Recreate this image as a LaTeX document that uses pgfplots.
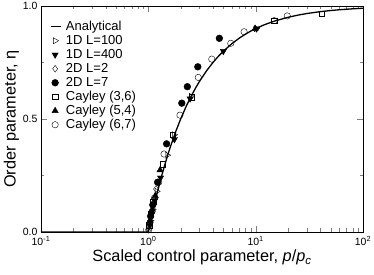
\documentclass[border=0pt]{standalone}
\usepackage{fontspec}
\setmainfont{Liberation Sans}
\usepackage{pgfplots}
\pgfplotsset{compat=1.18}
\pgfplotsset{shortline/.style={legend image code/.code={\draw[#1] (0.15cm,0cm) -- (0.5cm,0cm);}}}
\begin{document}
\begin{tikzpicture}
\begin{axis}[
  at={(0,0)}, anchor=south west,
  scale only axis, width=322pt, height=226pt,
  xmode=log, xmin=0.1, xmax=100, ymin=0, ymax=1,
  xtick={0.1,1,10,100},
  xticklabels={10\textsuperscript{-1},10\textsuperscript{0},10\textsuperscript{1},10\textsuperscript{2}},
  ytick={0,0.5,1}, yticklabels={0.0,0.5,1.0},
  minor ytick={0.25,0.75},
  tick align=inside, tick pos=both,
  major tick length=6pt, minor tick length=3.5pt,
  tick label style={font=\fontsize{10.5}{12}\selectfont},
  xticklabel style={yshift=-1pt},
  xlabel={Scaled control parameter, \textit{p}/\textit{p}\textsubscript{\textit{c}}},
  ylabel={Order parameter, η},
  label style={font=\fontsize{16.3}{18}\selectfont},
  xlabel style={yshift=3pt},
  ylabel style={yshift=-3pt},
  legend style={at={(0.028,0.94)}, anchor=north west, draw=none, fill=none,
    font=\fontsize{13}{14}\selectfont, row sep=0pt, inner sep=0pt,
    nodes={text height=9.3pt, text depth=2.7pt, inner sep=1pt},
    /tikz/every odd column/.append style={column sep=3.5pt}},
  legend cell align=left,
]
\addplot[black, line width=1.3pt, mark=none, shortline]
  coordinates {(0.1,0) (1,0) (1.05,0.0476) (1.1,0.0909) (1.15,0.1304) (1.2,0.1667)
  (1.3,0.2308) (1.4,0.2857) (1.5,0.3333) (1.6,0.375) (1.8,0.4444) (2,0.5)
  (2.25,0.5556) (2.5,0.6) (2.75,0.6364) (3,0.6667) (3.5,0.7143) (4,0.75)
  (4.5,0.7778) (5,0.8) (6,0.8333) (7,0.8571) (8,0.875) (9,0.8889) (10,0.9)
  (12,0.9167) (15,0.9333) (20,0.95) (25,0.96) (30,0.9667) (40,0.975)
  (50,0.98) (60,0.9833) (70,0.9857) (80,0.9875) (100,0.99)};
\addlegendentry{Analytical}
\addplot[only marks, black, mark=triangle, mark size=3.5pt, mark options={rotate=-90, fill=white}]
  coordinates {(1.02,0.02) (1.05,0.05) (1.1,0.10) (1.2,0.18) (1.5,0.34) (1.74,0.43) (2.5,0.6) (10.1,0.9)};
\addlegendentry{1D L=100}
\addplot[only marks, black, mark=triangle*, mark size=3.6pt, mark options={rotate=180}]
  coordinates {(1.03,0.03) (1.08,0.08) (1.15,0.14) (1.3,0.24) (1.75,0.41) (2.45,0.59) (5.0,0.8) (10.2,0.9)};
\addlegendentry{1D L=400}
\addplot[only marks, black, mark=diamond, mark size=3.4pt, mark options={fill=white}]
  coordinates {(1.01,0.01) (1.04,0.05) (1.07,0.09) (1.12,0.13) (1.18,0.19)};
\addlegendentry{2D L=2}
\addplot[only marks, black, mark=*, mark size=3.4pt]
  coordinates {(1.05,0.07) (1.1,0.12) (1.22,0.22) (1.48,0.39) (2.05,0.57) (2.31,0.643) (2.89,0.731) (4.59,0.857)};
\addlegendentry{2D L=7}
\addplot[only marks, black, mark=square, mark size=2.6pt, mark options={fill=white}]
  coordinates {(1.02,0.03) (1.06,0.08) (1.11,0.134) (1.36,0.30) (1.69,0.43) (2.54,0.596) (14.9,0.935) (41.3,0.966)};
\addlegendentry{Cayley (3,6)}
\addplot[only marks, black, mark=triangle*, mark size=3.6pt]
  coordinates {(1.04,0.05) (1.09,0.10) (1.16,0.16) (1.285,0.274) (9.9,0.9)};
\addlegendentry{Cayley (5,4)}
\addplot[only marks, black, mark=o, mark size=3.2pt, mark options={fill=white}]
  coordinates {(1.01,0.01) (1.03,0.04) (1.08,0.09) (1.14,0.15) (1.25,0.22) (1.40,0.345)
  (1.97,0.517) (2.92,0.684) (3.9,0.765) (5.86,0.835) (7.8,0.886) (14.9,0.935) (19.7,0.956)};
\addlegendentry{Cayley (6,7)}
\end{axis}
\pgfresetboundingbox
\path (-41pt,-43pt) rectangle (333pt,232pt);
\end{tikzpicture}
\end{document}
